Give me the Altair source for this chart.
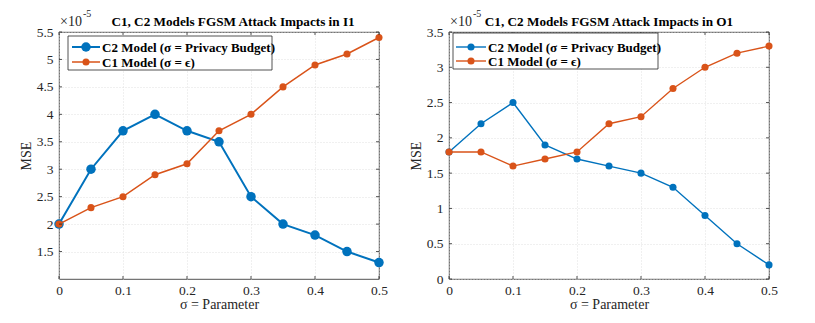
import altair as alt
import pandas as pd

sigma = [0, 0.05, 0.1, 0.15, 0.2, 0.25, 0.3, 0.35, 0.4, 0.45, 0.5]

# Panel 1 (I1), values in units of 1e-5
i1_c2 = [2.0, 3.0, 3.7, 4.0, 3.7, 3.5, 2.5, 2.0, 1.8, 1.5, 1.3]
i1_c1 = [2.0, 2.3, 2.5, 2.9, 3.1, 3.7, 4.0, 4.5, 4.9, 5.1, 5.4]

# Panel 2 (O1), values in units of 1e-5
o1_c2 = [1.8, 2.2, 2.5, 1.9, 1.7, 1.6, 1.5, 1.3, 0.9, 0.5, 0.2]
o1_c1 = [1.8, 1.8, 1.6, 1.7, 1.8, 2.2, 2.3, 2.7, 3.0, 3.2, 3.3]

x_ticks = [0, 0.1, 0.2, 0.3, 0.4, 0.5]
i1_y_ticks = [1.5, 2, 2.5, 3, 3.5, 4, 4.5, 5, 5.5]
o1_y_ticks = [0, 0.5, 1, 1.5, 2, 2.5, 3, 3.5]

titles = ["C1, C2 Models FGSM Attack Impacts in I1",
          "C1, C2 Models FGSM Attack Impacts in O1"]
legend_labels = ["C2 Model (σ = Privacy Budget)", "C1 Model (σ = ϵ)"]

BLUE = "#0072BD"
ORANGE = "#D95319"
FONT = "Liberation Serif"
TC = "#262626"
W, H = 320, 247


def axis(values, title, orient):
    common = dict(values=values, format="~g", grid=True, title=title,
                  labelFont=FONT, labelFontSize=13.5, labelColor=TC,
                  labelOverlap=False, labelFlush=False, labelBound=False,
                  titleFont=FONT, titleFontSize=14, titleFontWeight="normal",
                  titleColor=TC, domain=False, ticks=False,
                  gridColor="#d9d9d9", gridDash=[1, 2], gridWidth=0.8)
    if orient == "y":
        return alt.Axis(labelPadding=6, titlePadding=3, minExtent=23, maxExtent=23, **common)
    return alt.Axis(labelPadding=4, titlePadding=1, **common)


def panel(c2, c1, yticks, ydom, title, title_x, c2_style, c1_style, leg):
    df = pd.DataFrame({"s": sigma, "c2": c2, "c1": c1})
    xs = alt.Scale(domain=[0, 0.5], nice=False, zero=False)
    ys = alt.Scale(domain=ydom, nice=False, zero=False)
    xax = axis(x_ticks, "σ = Parameter", "x")
    yax = axis(yticks, "MSE", "y")
    base = alt.Chart(df)

    layers = []
    for col, color, (sw, size) in [("c2", BLUE, c2_style), ("c1", ORANGE, c1_style)]:
        layers.append(base.mark_line(color=color, strokeWidth=sw).encode(
            x=alt.X("s:Q", scale=xs, axis=xax), y=alt.Y(f"{col}:Q", scale=ys, axis=yax)))
        layers.append(base.mark_point(color=color, filled=True, size=size, opacity=1).encode(
            x=alt.X("s:Q", scale=xs, axis=xax), y=alt.Y(f"{col}:Q", scale=ys, axis=yax)))

    # inward ticks on all four sides
    tx = alt.Chart(pd.DataFrame({"t": x_ticks}))
    ty = alt.Chart(pd.DataFrame({"t": yticks}))
    layers.append(tx.mark_rule(color=TC, strokeWidth=0.8).encode(
        x=alt.X("t:Q", scale=xs, axis=xax), y=alt.value(H), y2=alt.value(H - 3)))
    layers.append(tx.mark_rule(color=TC, strokeWidth=0.8).encode(
        x=alt.X("t:Q", scale=xs, axis=xax), y=alt.value(0), y2=alt.value(3)))
    layers.append(ty.mark_rule(color=TC, strokeWidth=0.8).encode(
        y=alt.Y("t:Q", scale=ys, axis=yax), x=alt.value(0), x2=alt.value(3)))
    layers.append(ty.mark_rule(color=TC, strokeWidth=0.8).encode(
        y=alt.Y("t:Q", scale=ys, axis=yax), x=alt.value(W), x2=alt.value(W - 3)))

    one = alt.Chart(pd.DataFrame({"a": [0]}))
    # title
    layers.append(one.mark_text(text=title, font=FONT, fontSize=13.2, fontWeight="bold",
                                align="center", baseline="alphabetic", color="black").encode(
        x=alt.value(title_x), y=alt.value(-6)))
    # exponent
    layers.append(one.mark_text(text="×10", font=FONT, fontSize=14, align="left",
                                baseline="alphabetic", color=TC).encode(
        x=alt.value(1), y=alt.value(-6)))
    layers.append(one.mark_text(text="-5", font=FONT, fontSize=10, align="left",
                                baseline="alphabetic", color=TC).encode(
        x=alt.value(24), y=alt.value(-15)))

    # legend box
    bx0, bx1, by0, by1, lx0, lx1, tx0, rows = leg
    layers.append(one.mark_rect(fill="white", stroke=TC, strokeWidth=0.8).encode(
        x=alt.value(bx0), x2=alt.value(bx1), y=alt.value(by0), y2=alt.value(by1)))
    for (label, color, (sw, size)), ry in zip(
            [(legend_labels[0], BLUE, c2_style), (legend_labels[1], ORANGE, c1_style)], rows):
        layers.append(one.mark_rule(color=color, strokeWidth=sw).encode(
            x=alt.value(lx0), x2=alt.value(lx1), y=alt.value(ry)))
        layers.append(one.mark_point(color=color, filled=True, size=size, opacity=1).encode(
            x=alt.value((lx0 + lx1) / 2), y=alt.value(ry)))
        layers.append(one.mark_text(text=label, font=FONT, fontSize=13, fontWeight="bold",
                                    align="left", baseline="middle", color="black").encode(
            x=alt.value(tx0), y=alt.value(ry + 1)))

    return alt.layer(*layers).properties(width=W, height=H)


left = panel(i1_c2, i1_c1, i1_y_ticks, [1, 5.5], titles[0], 174, (2, 90), (1.5, 50),
             (9, 213, 4, 38, 13, 41, 43, [15, 30]))
right = panel(o1_c2, o1_c1, o1_y_ticks, [0, 3.5], titles[1], 160, (1.4, 50), (1.4, 50),
              (4, 209, 1, 37, 7, 37, 39, [15, 29]))

chart = alt.hconcat(left, right, spacing=70, bounds="flush").properties(
    padding={"left": 10, "top": 0, "right": 5, "bottom": 2}
).configure_view(stroke=TC, strokeWidth=0.8)

chart.save("out.html", embed_options={"renderer": "svg", "actions": False})
